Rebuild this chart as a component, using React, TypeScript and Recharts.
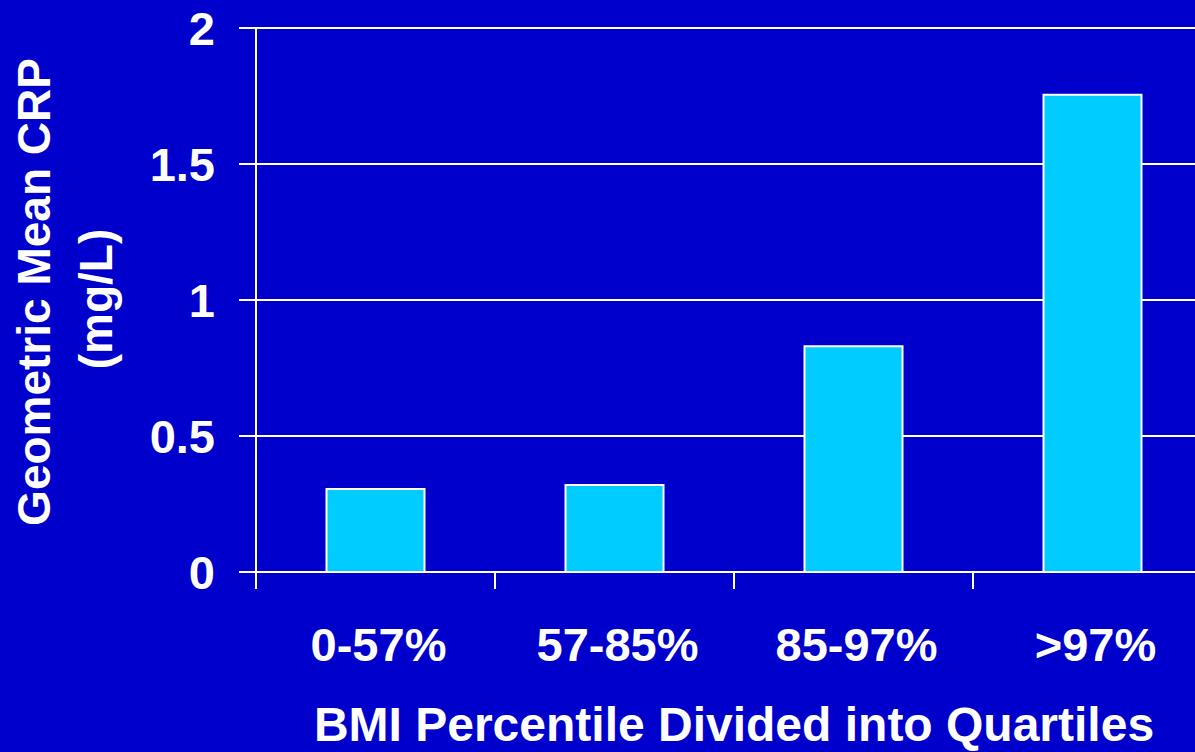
import React from 'react'
import { BarChart, Bar, XAxis, YAxis, CartesianGrid, Label } from 'recharts'

const quartiles = ['0-57%', '57-85%', '85-97%', '>97%']
const crpValues = [0.305, 0.32, 0.83, 1.755]
const yTicks = [0, 0.5, 1, 1.5, 2]

const data = quartiles.map((q, i) => ({ quartile: q, crp: crpValues[i] }))

const BG = '#0000CC'
const BAR = '#00CCFF'
const FONT = '"Liberation Sans", Arial, Helvetica, sans-serif'
const TICK_SIZE = 17
const X_TICK_MARGIN = 40

const textStyle = { fontFamily: FONT, fontWeight: 700, fontSize: 47, fill: '#fff' }

// tick mark sits on the category boundary, label in the middle of the band
const XTick = (props: any) => {
  const { x, y, payload } = props
  const half = payload && payload.offset ? payload.offset : 119.5
  const axisY = y - X_TICK_MARGIN - TICK_SIZE
  return (
    <g>
      <line x1={x - half} x2={x - half} y1={axisY} y2={axisY + TICK_SIZE} stroke="#fff" strokeWidth={2} />
      <text x={x + 3} y={y - 1} dy="0.71em" textAnchor="middle" {...textStyle}>
        {payload.value}
      </text>
    </g>
  )
}

const YTitle = () => (
  <g>
    <text x={50} y={292} transform="rotate(-90, 50, 292)" textAnchor="middle" {...textStyle} fontSize={46}>
      Geometric Mean CRP
    </text>
    <text x={112} y={299} transform="rotate(-90, 112, 299)" textAnchor="middle" {...textStyle} fontSize={46}>
      (mg/L)
    </text>
  </g>
)

const XTitle = (props: any) => {
  const vb = props.viewBox || { x: 256, width: 956 }
  return (
    <text x={vb.x + vb.width / 2} y={741} textAnchor="middle" {...textStyle} fontSize={48}>
      BMI Percentile Divided into Quartiles
    </text>
  )
}

export default function App() {
  return (
    <div
      style={{
        position: 'absolute',
        left: 0,
        top: 0,
        width: 1195,
        height: 752,
        overflow: 'hidden',
        background: BG,
      }}
    >
      <BarChart
        width={1212}
        height={752}
        data={data}
        margin={{ top: 28, right: 0, bottom: 0, left: 0 }}
        barCategoryGap="29.5%"
      >
        <CartesianGrid vertical={false} stroke="#fff" strokeWidth={2} />
        <XAxis
          dataKey="quartile"
          height={180}
          axisLine={{ stroke: '#fff', strokeWidth: 2 }}
          tickLine={false}
          tickSize={TICK_SIZE}
          tickMargin={X_TICK_MARGIN}
          tick={<XTick />}
          interval={0}
        >
          <Label content={<XTitle />} />
        </XAxis>
        <YAxis
          width={256}
          domain={[0, 2]}
          ticks={yTicks}
          allowDataOverflow
          axisLine={{ stroke: '#fff', strokeWidth: 2 }}
          tickLine={{ stroke: '#fff', strokeWidth: 2 }}
          tickSize={TICK_SIZE}
          tickMargin={24}
          tick={{ ...textStyle }}
        >
          <Label content={<YTitle />} />
        </YAxis>
        <Bar dataKey="crp" fill={BAR} stroke="#fff" strokeWidth={2} isAnimationActive={false} />
      </BarChart>
    </div>
  )
}
